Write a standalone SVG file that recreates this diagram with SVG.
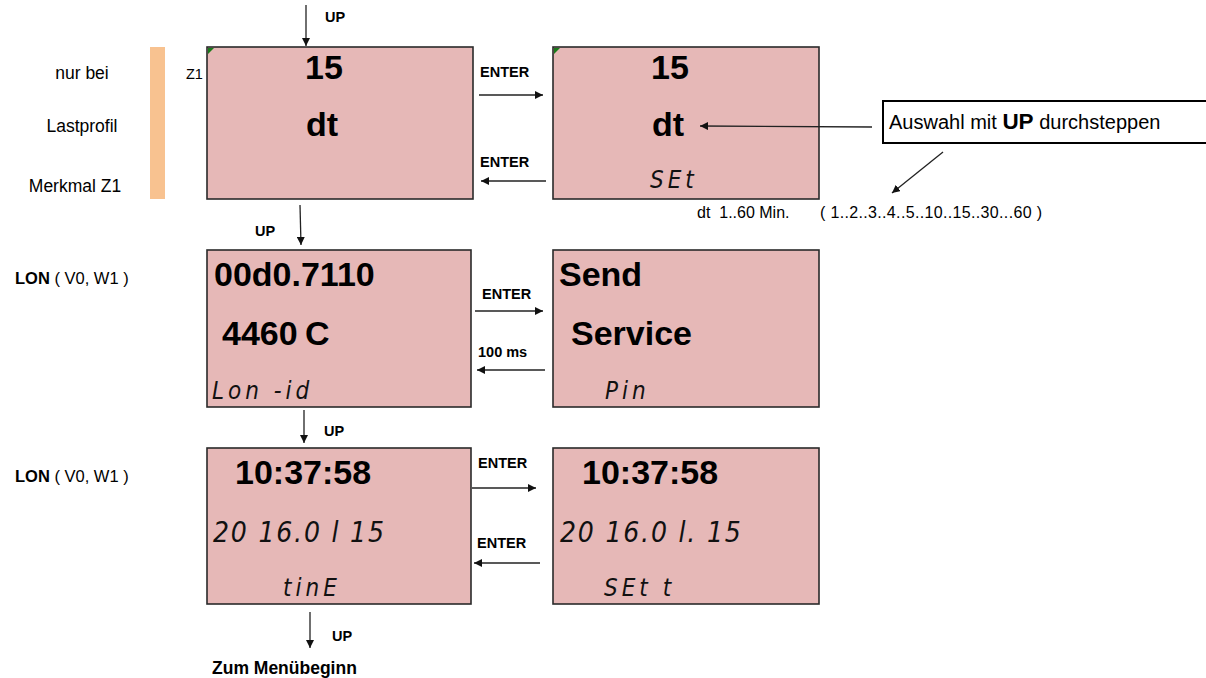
<svg xmlns="http://www.w3.org/2000/svg" width="1206" height="678" viewBox="0 0 1206 678">
<style>
.scr{fill:#e6b8b7;stroke:#2a2a2a;stroke-width:1.6}
.big{font-family:"Liberation Sans",Arial,sans-serif;font-weight:bold;font-size:34px;fill:#000}
.seg{font-family:"DejaVu Sans Condensed","DejaVu Sans",sans-serif;font-style:oblique;font-weight:normal;font-size:24px;fill:#111;letter-spacing:4px}
.date{font-size:28px;letter-spacing:1.8px}
.lbl{font-family:"Liberation Sans",Arial,sans-serif;font-weight:bold;font-size:14.5px;fill:#000}
.txt{font-family:"Liberation Sans",Arial,sans-serif;font-size:17.5px;fill:#000}
.sm{font-family:"Liberation Sans",Arial,sans-serif;font-size:16px;fill:#000}
.con{stroke:#222;stroke-width:1.3;fill:none;marker-end:url(#ah)}
</style>
<defs>
<marker id="ah" viewBox="0 0 10 10" refX="10" refY="5" markerWidth="8" markerHeight="8" markerUnits="userSpaceOnUse" orient="auto">
<path d="M0,0 L10,5 L0,10 z" fill="#111"/>
</marker>
</defs>
<rect width="1206" height="678" fill="#fff"/>

<g id="side-note">
<rect x="150" y="47" width="15" height="152" fill="#f8c290"/>
<text class="txt" x="82" y="79" text-anchor="middle">nur bei</text>
<text class="txt" x="82" y="132" text-anchor="middle">Lastprofil</text>
<text class="txt" x="75" y="192" text-anchor="middle">Merkmal Z1</text>
<text class="sm" x="186" y="79" style="font-size:14.5px">Z1</text>
</g>

<g id="lon-labels">
<text class="sm" x="15" y="284" style="font-size:16.5px"><tspan font-weight="bold">LON</tspan> ( V0, W1 )</text>
<text class="sm" x="15" y="482" style="font-size:16.5px"><tspan font-weight="bold">LON</tspan> ( V0, W1 )</text>
</g>

<g id="screen-dt">
<rect class="scr" x="207" y="47" width="266" height="152"/>
<path d="M208,48 L214,48 L208,54 z" fill="#1a7a1a"/>
<text class="big" x="324" y="79" text-anchor="middle">15</text>
<text class="big" x="322" y="136" text-anchor="middle">dt</text>
</g>

<g id="screen-dt-set">
<rect class="scr" x="553" y="47" width="266" height="152"/>
<path d="M554,48 L560,48 L554,54 z" fill="#1a7a1a"/>
<text class="big" x="670" y="79" text-anchor="middle">15</text>
<text class="big" x="668" y="136" text-anchor="middle">dt</text>
<text class="seg" x="650" y="188">SEt</text>
</g>

<g id="hint">
<rect x="883" y="101" width="330" height="42" fill="#fff" stroke="#000" stroke-width="2"/>
<text class="txt" x="889" y="129" style="font-size:20px">Auswahl mit <tspan style="font-weight:bold;font-size:22.5px">UP</tspan> durchsteppen</text>
<text class="sm" x="697" y="218" xml:space="preserve">dt  1..60 Min.</text>
<text class="sm" x="820" y="218" xml:space="preserve" textLength="222" lengthAdjust="spacing">( 1..2..3..4..5..10..15..30...60 )</text>
</g>

<g id="screen-lon">
<rect class="scr" x="207" y="250" width="264" height="157"/>
<text class="big" x="214" y="286">00d0.7110</text>
<text class="big" x="222" y="345">4460</text>
<text class="big" x="305" y="345">C</text>
<text class="seg" x="212" y="399">Lon -id</text>
</g>

<g id="screen-service">
<rect class="scr" x="553" y="250" width="266" height="157"/>
<text class="big" x="559" y="286">Send</text>
<text class="big" x="571" y="345">Service</text>
<text class="seg" x="605" y="399">Pin</text>
</g>

<g id="screen-time">
<rect class="scr" x="207" y="448" width="264" height="156"/>
<text class="big" x="235" y="484">10:37:58</text>
<text class="seg date" x="213" y="542">20 16.0 l 15</text>
<text class="seg" x="283" y="596">tinE</text>
</g>

<g id="screen-time-set">
<rect class="scr" x="553" y="448" width="266" height="156"/>
<text class="big" x="582" y="484">10:37:58</text>
<text class="seg date" x="560" y="542">20 16.0 l. 15</text>
<text class="seg" x="604" y="596">SEt t</text>
</g>

<g id="connectors">
<line class="con" x1="306" y1="5" x2="306" y2="46"/>
<text class="lbl" x="325" y="22">UP</text>
<line class="con" x1="479" y1="95" x2="543" y2="95"/>
<text class="lbl" x="480" y="77">ENTER</text>
<line class="con" x1="546" y1="181" x2="481" y2="181"/>
<text class="lbl" x="480" y="167">ENTER</text>
<line class="con" x1="872" y1="127" x2="700" y2="126"/>
<line class="con" x1="943" y1="152" x2="892" y2="193"/>
<line class="con" x1="300" y1="205" x2="301" y2="245"/>
<text class="lbl" x="255" y="236">UP</text>
<line class="con" x1="475" y1="311" x2="543" y2="311"/>
<text class="lbl" x="482" y="299">ENTER</text>
<line class="con" x1="545" y1="370" x2="477" y2="370"/>
<text class="lbl" x="478" y="357">100 ms</text>
<line class="con" x1="304" y1="410" x2="304" y2="443"/>
<text class="lbl" x="324" y="436">UP</text>
<line class="con" x1="472" y1="488" x2="536" y2="488"/>
<text class="lbl" x="478" y="468">ENTER</text>
<line class="con" x1="540" y1="563" x2="474" y2="563"/>
<text class="lbl" x="477" y="548">ENTER</text>
<line class="con" x1="310" y1="612" x2="310" y2="648"/>
<text class="lbl" x="332" y="641">UP</text>
<text class="lbl" x="212" y="674" style="font-size:17.5px">Zum Menübeginn</text>
</g>
</svg>
